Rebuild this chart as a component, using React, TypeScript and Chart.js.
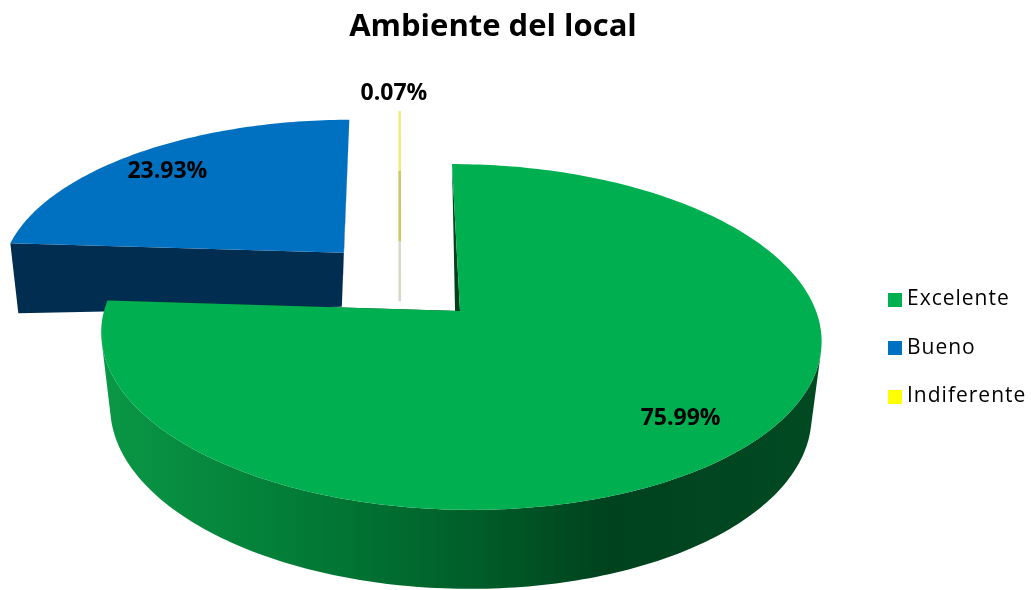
import React, { useEffect, useRef } from "react";
import { Chart, registerables } from "chart.js";

Chart.register(...registerables);

const categories = ["Excelente", "Bueno", "Indiferente"];
const shares = [75.99, 23.93, 0.07];
const faceColors = ["#00B050", "#0070C0", "#FFFF00"];
const chartTitle = "Ambiente del local";

const FONT = "'Open Sans', sans-serif";

// Perspective of the pie plane (unit disk, u to the right, v toward the viewer)
const CX = 460, CY = 311, A = 356, B = 169, S = 9.2, K = 0.1503, M = 0;
const project = (u: number, v: number) => {
  const w = 1 - K * v - M * u;
  return { x: CX + (A * u + S * v) / w, y: CY + (B * v) / w };
};

// Per-slice styling: explosion in plane units, how the lower rim follows the upper one, label placement
const sliceStyles = [
  { du: 0, dv: 0, dxA: -0.5, dxB: -0.0265, dA: 74, dB: 0.025, dC: 0, radialApexDx: -3, radialRimDx: 1.8, wall: "green", radial: "#00401C", labelFrac: 0.78, nudgeX: 7, nudgeY: 2 },
  { du: -0.335, dv: -0.3635, dxA: -5.4, dxB: -0.0298, dA: 48.5, dB: 0, dC: -0.0478, radialApexDx: 0, radialRimDx: 0, wall: "#002D50", radial: "#002D50", labelFrac: 0.834, nudgeX: -3, nudgeY: 4 },
  { du: -0.169, dv: -0.44, dxA: 0, dxB: 0, dA: 60, dB: 0, dC: 0, radialApexDx: 0, radialRimDx: 0, wall: "#D8D8CC", radial: "#D8D8CC", labelFrac: 1.135, nudgeX: -5, nudgeY: -2 },
];

const swatch = (color: string) => {
  const c = document.createElement("canvas");
  c.width = 14;
  c.height = 14;
  const g = c.getContext("2d")!;
  g.fillStyle = color;
  g.fillRect(0, 0, 14, 14);
  return c;
};

const pie3d = {
  id: "pie3d",
  afterLayout(chart: any) {
    const legend = chart.legend;
    if (legend) {
      legend.left = 865;
      legend.right = 1031;
      legend.top = 248;
      legend.bottom = 448;
      legend.adjustHitBoxes();
      if (!legend.__spaced) {
        legend.__spaced = true;
        const draw = legend.draw;
        legend.draw = function (...args: any[]) {
          (chart.ctx as any).letterSpacing = "1px";
          draw.apply(this, args);
          (chart.ctx as any).letterSpacing = "0px";
        };
      }
    }
    const title = chart.titleBlock;
    if (title) {
      title.left = 0;
      title.right = 986;
    }
  },
  beforeDatasetsDraw(chart: any) {
    const ctx = chart.ctx as CanvasRenderingContext2D;
    const arcs = chart.getDatasetMeta(0).data;
    const order = [2, 1, 0];
    for (const i of order) {
      const arc = arcs[i];
      const st = sliceStyles[i];
      const a0 = arc.startAngle + Math.PI / 2;
      const a1 = arc.endAngle + Math.PI / 2;
      const rim = (t: number) => project(st.du + Math.sin(t), st.dv - Math.cos(t));
      const apex = project(st.du, st.dv);
      const low = (p: { x: number; y: number }, extra = 0) => ({
        x: p.x + st.dxA + st.dxB * (p.x - CX) + extra,
        y: p.y + st.dA + st.dB * (p.y - CY) + st.dC * (p.x - CX),
      });
      const n = Math.max(2, Math.ceil(((a1 - a0) * 180) / Math.PI));
      const pts: { x: number; y: number }[] = [];
      for (let k = 0; k <= n; k++) pts.push(rim(a0 + ((a1 - a0) * k) / n));

      const trace = (list: { x: number; y: number }[]) => {
        list.forEach((p, idx) => (idx ? ctx.lineTo(p.x, p.y) : ctx.moveTo(p.x, p.y)));
        ctx.closePath();
      };
      const poly = (list: { x: number; y: number }[], fill: any) => {
        ctx.beginPath();
        trace(list);
        ctx.fillStyle = fill;
        ctx.fill();
      };

      if (i === 2) {
        // the sliver is thinner than a pixel: trace its wall and face so it stays visible
        const line = (p: any, q: any, color: string) => {
          ctx.beginPath();
          ctx.moveTo(p.x, p.y);
          ctx.lineTo(q.x, q.y);
          ctx.strokeStyle = color;
          ctx.lineWidth = 2.6;
          ctx.stroke();
        };
        line(low(pts[n]), low(apex), st.wall);
        ctx.save();
        ctx.globalCompositeOperation = "multiply";
        line(pts[n], apex, "#EEEE80");
        ctx.restore();
        continue;
      }

      let wallFill: any = st.wall;
      if (st.wall === "green") {
        const g = ctx.createLinearGradient(101, 0, 822, 0);
        g.addColorStop(0, "#0A9846");
        g.addColorStop(0.29, "#027A36");
        g.addColorStop(0.53, "#005C28");
        g.addColorStop(0.7, "#00421E");
        g.addColorStop(1, "#004A22");
        wallFill = g;
      }
      // outer wall: only the quads that face the viewer, as one path so no seams appear
      ctx.beginPath();
      for (let k = 0; k < n; k++) {
        const quad = [pts[k], pts[k + 1], low(pts[k + 1]), low(pts[k])];
        let area = 0;
        quad.forEach((p, j) => {
          const q = quad[(j + 1) % 4];
          area += p.x * q.y - q.x * p.y;
        });
        if (area < 0) trace(quad);
      }
      ctx.fillStyle = wallFill;
      ctx.fill();
      // radial walls
      poly([apex, pts[0], low(pts[0], st.radialRimDx), low(apex, st.radialApexDx)], st.radial);
      poly([apex, pts[n], low(pts[n]), low(apex)], st.radial);
      // top face
      poly([apex, ...pts], arc.options.backgroundColor);
    }
    // value labels
    ctx.font = `bold 23px ${FONT}`;
    ctx.fillStyle = "#000";
    ctx.textAlign = "center";
    ctx.textBaseline = "middle";
    arcs.forEach((arc: any, i: number) => {
      const st = sliceStyles[i];
      const mid = (arc.startAngle + arc.endAngle) / 2 + Math.PI / 2;
      const p = project(st.du + st.labelFrac * Math.sin(mid), st.dv - st.labelFrac * Math.cos(mid));
      ctx.fillText(`${shares[i].toFixed(2)}%`, p.x + st.nudgeX, p.y + st.nudgeY);
    });
    return false;
  },
};

export default function App() {
  const ref = useRef<HTMLCanvasElement>(null);
  useEffect(() => {
    const chart = new Chart(ref.current!, {
      type: "pie",
      data: {
        labels: categories,
        datasets: [{ data: shares, backgroundColor: faceColors, borderWidth: 0 }],
      },
      options: {
        responsive: false,
        animation: false,
        layout: { padding: { top: 9 } },
        plugins: {
          title: {
            display: true,
            text: chartTitle,
            fullSize: false,
            color: "#000",
            font: { family: FONT, size: 31, weight: "bold" },
            padding: { top: 0, bottom: 10 },
          },
          legend: {
            position: "right",
            labels: {
              color: "#000",
              font: { family: FONT, size: 21 },
              usePointStyle: true,
              boxWidth: 4,
              padding: 27.5,
              generateLabels: () =>
                categories.map((text, i) => ({
                  text,
                  fillStyle: faceColors[i],
                  strokeStyle: faceColors[i],
                  lineWidth: 0,
                  pointStyle: swatch(faceColors[i]),
                  index: i,
                })),
            },
          },
          tooltip: { enabled: false },
        },
      },
      plugins: [pie3d],
    } as any);
    return () => chart.destroy();
  }, []);
  return (
    <canvas
      ref={ref}
      width={1031}
      height={590}
      style={{ position: "fixed", left: 0, top: 0, display: "block" }}
    />
  );
}
